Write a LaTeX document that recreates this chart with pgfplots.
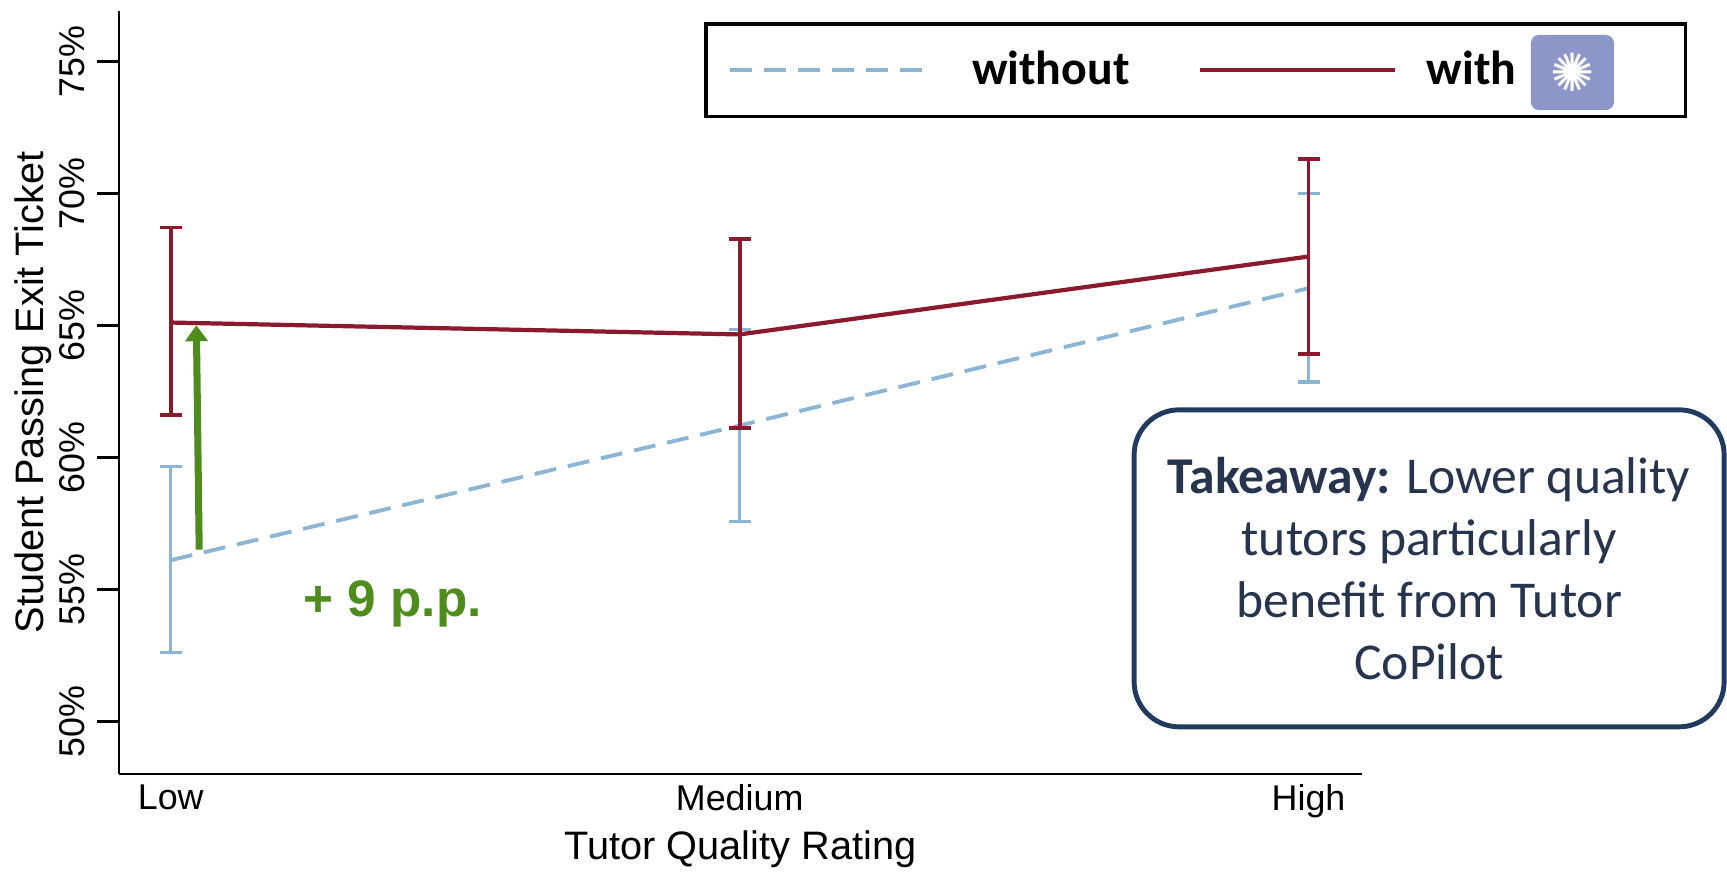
\documentclass[border=0pt]{standalone}
\usepackage{pgfplots}
\pgfplotsset{compat=1.18}
\usepackage{fontspec}
\setmainfont{Liberation Sans}
\newfontfamily\calibri{Carlito}
\newfontfamily\dejavu{DejaVu Sans}
\usetikzlibrary{arrows.meta}

\definecolor{withred}{RGB}{139,26,46}
\definecolor{woblue}{RGB}{140,180,212}
\definecolor{arrowgreen}{RGB}{78,140,30}
\definecolor{boxnavy}{RGB}{32,58,96}
\definecolor{boxtext}{RGB}{38,52,78}
\definecolor{iconblue}{RGB}{140,150,200}

\begin{document}
\begin{tikzpicture}
\useasboundingbox (-11.9mm,-10mm) rectangle (160.8mm,77.4mm);
\begin{axis}[
    at={(0,0)}, anchor=south west,
    scale only axis, width=124.3mm, height=76.3mm,
    clip=false,
    axis lines=left,
    axis line style={-, line width=0.8pt},
    xmin=-0.091, xmax=2.094, ymin=48, ymax=76.9,
    xtick={0,1,2}, xticklabels={Low,Medium,High},
    xtick style={draw=none},
    xticklabel style={yshift=2.4mm},
    ytick={50,55,...,75},
    yticklabel={\pgfmathprintnumber{\tick}\%},
    /pgf/number format/assume math mode=true,
    tick align=outside, major tick length=2.2mm,
    ytick style={line width=0.8pt, black},
    ticklabel style={font=\fontsize{10.2}{12}\selectfont},
    yticklabel style={rotate=90, anchor=south},
    xlabel={Tutor Quality Rating},
    ylabel={Student Passing Exit Ticket},
    label style={font=\fontsize{11.3}{13}\selectfont},
    xlabel style={at={(axis description cs:0.5,-0.098)}, anchor=center},
    ylabel style={at={(axis description cs:-0.069,0.5)}, anchor=center},
    legend columns=2,
    legend image code/.code={\draw[#1] (0mm,0mm) -- (19.5mm,0mm);},
    legend style={
        at={(1.2615,0.9856)}, anchor=north east,
        draw=black, line width=1pt,
        inner xsep=2.2mm, inner ysep=2.7mm,
        font=\calibri\bfseries\fontsize{13.6}{16}\selectfont,
        nodes={inner sep=0pt},
        /tikz/every odd column/.append style={column sep=4.5mm},
        /tikz/every even column/.append style={column sep=6.8mm},
    },
]
% without Tutor CoPilot
\addplot[woblue, line width=1.1pt, dash pattern=on 2.2mm off 1.2mm,
    error bars/.cd, y dir=both, y explicit,
    error bar style={solid, line width=0.9pt, color=woblue},
    error mark options={rotate=90, solid, line width=0.9pt, mark size=1.1mm, color=woblue}]
coordinates {
    (0,56.1) += (0,3.55) -= (0,3.5)
    (1,61.2) += (0,3.65) -= (0,3.65)
    (2,66.4) += (0,3.6) -= (0,3.55)
};
\addlegendentry{without}
% with Tutor CoPilot
\addplot[withred, line width=1.2pt,
    error bars/.cd, y dir=both, y explicit,
    error bar style={line width=1.1pt, color=withred},
    error mark options={rotate=90, line width=1.1pt, mark size=1.1mm, color=withred}]
coordinates {
    (0,65.1) += (0,3.6) -= (0,3.5)
    (1,64.65) += (0,3.6) -= (0,3.55)
    (2,67.6) += (0,3.7) -= (0,3.7)
};
\addlegendentry{\kern-1.5mm with\rule{14.7mm}{0pt}}

\draw[arrowgreen, line width=2pt, -{Triangle[length=1.6mm, width=2.2mm]}]
    (axis cs:0.05,56.5) -- (axis cs:0.045,65.0);
\node[text=arrowgreen, font=\bfseries\fontsize{14.6}{16}\selectfont]
    at (axis cs:0.39,54.46) {+ 9 p.p.};

\coordinate (iconpos) at (rel axis cs:1.1693,0.9194);

\node[draw=boxnavy, line width=1.4pt, rounded corners=4.5mm,
    minimum width=59mm, minimum height=31.7mm, align=center, text=boxtext,
    font=\calibri\fontsize{14.7}{17.6}\selectfont]
    at (axis cs:2.212,55.79)
    {\textbf{Takeaway:} Lower quality\\tutors particularly\\benefit from Tutor\\CoPilot};
\end{axis}
% Tutor CoPilot logo next to the legend entry "with"
\node[fill=iconblue, rounded corners=0.8mm, minimum width=8.3mm, minimum height=7.5mm,
    inner sep=0pt, text=white, font=\dejavu\fontsize{15}{15}\selectfont]
    at (iconpos) {✺};
\end{tikzpicture}
\end{document}
